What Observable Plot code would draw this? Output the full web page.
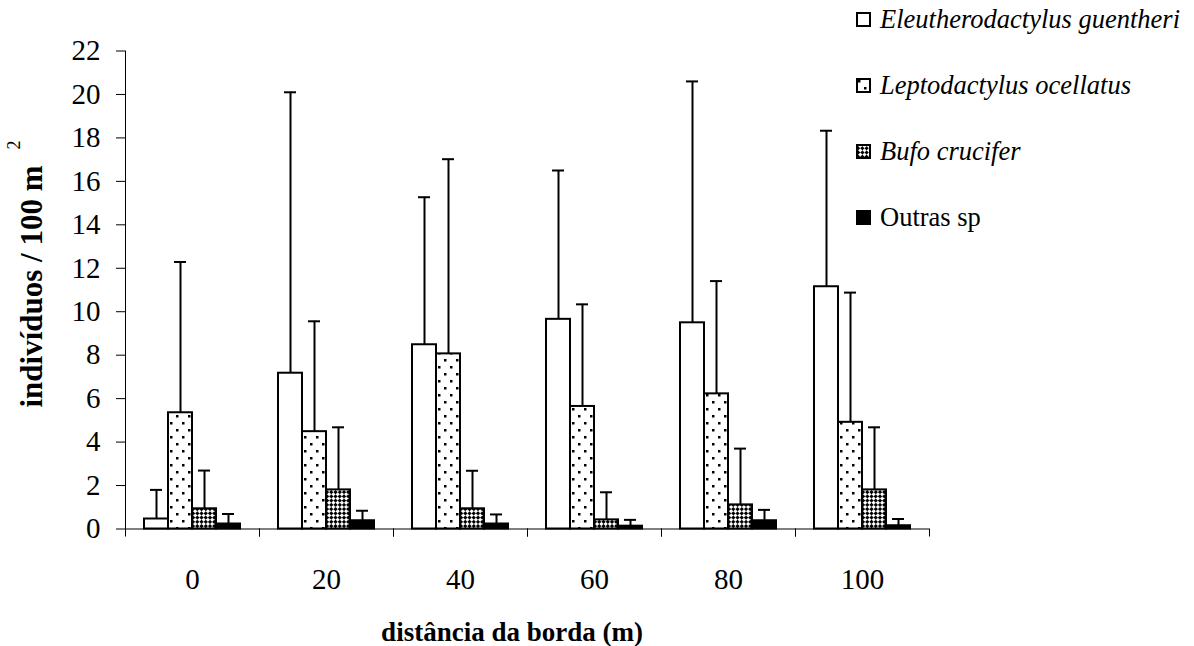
<!DOCTYPE html>
<html>
<head>
<meta charset="utf-8">
<script src="https://cdn.jsdelivr.net/npm/d3@7"></script>
<script src="https://cdn.jsdelivr.net/npm/@observablehq/plot@0.6"></script>
<style>
  body { margin: 0; background: #fff; }
  #wrap { position: relative; width: 1194px; height: 646px; font-family: "Liberation Serif", "Times New Roman", serif; color: #000; }
  #wrap svg text { font-family: "Liberation Serif", "Times New Roman", serif; }
  .leg { position: absolute; left: 856px; height: 30px; display: flex; align-items: center; font-size: 26.5px; white-space: nowrap; }
  .leg svg { margin-right: 9px; flex: none; }
  .ital { font-style: italic; }
</style>
</head>
<body>
<svg width="0" height="0" style="position:absolute">
  <defs>
    <pattern id="dots" width="12" height="14" patternUnits="userSpaceOnUse">
      <rect width="12" height="14" fill="white"/>
      <rect x="2" y="2" width="2.5" height="2.5" fill="black"/>
      <rect x="8" y="9" width="2.5" height="2.5" fill="black"/>
    </pattern>
    <pattern id="checker" width="6" height="6" patternUnits="userSpaceOnUse" patternTransform="rotate(45)">
      <rect width="6" height="6" fill="black"/>
      <rect x="0" y="0" width="3" height="3" fill="white"/>
      <rect x="3" y="3" width="3" height="3" fill="white"/>
    </pattern>
  </defs>
</svg>
<div id="wrap"></div>
<script>
// ---- data ----
const distances = ["0", "20", "40", "60", "80", "100"];
const species = ["Eleutherodactylus guentheri", "Leptodactylus ocellatus", "Bufo crucifer", "Outras sp"];
const italicSpecies = [true, true, true, false];
const eleuthMean = [0.46, 7.17, 8.48, 9.65, 9.49, 11.15];
const eleuthSD   = [1.34, 12.93, 6.79, 6.85, 11.11, 7.18];
const leptoMean  = [5.35, 4.48, 8.06, 5.64, 6.22, 4.91];
const leptoSD    = [6.94, 5.08, 8.96, 4.70, 5.19, 5.97];
const bufoMean   = [0.93, 1.80, 0.93, 0.42, 1.11, 1.80];
const bufoSD     = [1.76, 2.88, 1.75, 1.27, 2.59, 2.88];
const outrasMean = [0.23, 0.38, 0.23, 0.13, 0.38, 0.15];
const outrasSD   = [0.46, 0.46, 0.44, 0.29, 0.50, 0.31];
const yTicks = [0, 2, 4, 6, 8, 10, 12, 14, 16, 18, 20, 22];
const fills = ["white", "url(#dots)", "url(#checker)", "black"];
const xTitle = "distância da borda (m)";
const yTitle = "indivíduos / 100 m";

const means = [eleuthMean, leptoMean, bufoMean, outrasMean];
const sds = [eleuthSD, leptoSD, bufoSD, outrasSD];
const rows = distances.flatMap((dist, i) =>
  species.map((sp, j) => ({dist, sp, mean: means[j][i], sd: sds[j][i]})));

// ---- layout ----
const W = 1194, H = 646, mL = 125, mR = 265, mT = 50.5, mB = 117.5;
const step = (W - mL - mR) / distances.length;
const serif = '"Liberation Serif", "Times New Roman", serif';

const plot = Plot.plot({
  width: W, height: H,
  marginLeft: mL, marginRight: mR, marginTop: mT, marginBottom: mB,
  style: {fontFamily: serif, color: "black", background: "white"},
  fx: {domain: distances, padding: 0, label: null},
  x: {domain: species, paddingInner: 0, paddingOuter: 0.71, axis: null, label: null},
  y: {domain: [0, 22], label: null},
  color: {type: "ordinal", domain: species, range: fills},
  marks: [
    Plot.ruleY([0], {stroke: "black", strokeWidth: 1}),
    Plot.frame({anchor: "left", facetAnchor: "left", stroke: "black", strokeWidth: 1}),
    Plot.ruleX(rows, {fx: "dist", x: "sp", y1: "mean", y2: d => d.mean + d.sd, stroke: "black", strokeWidth: 2}),
    Plot.tickY(rows, {fx: "dist", x: "sp", y: d => d.mean + d.sd, stroke: "black", strokeWidth: 2, insetLeft: 6, insetRight: 6}),
    Plot.barY(rows, {fx: "dist", x: "sp", y: "mean", fill: "sp", stroke: "black", strokeWidth: 2}),
    Plot.axisY({ticks: yTicks, tickSize: 9, tickPadding: 16, fontSize: 29, fontFamily: serif, label: null, stroke: "black"}),
    Plot.axisFx({anchor: "bottom", tickSize: 0, tickPadding: 39, fontSize: 29, fontFamily: serif, label: null}),
    Plot.axisFx({anchor: "bottom", tickSize: 8, tickFormat: () => "", dx: -step / 2, label: null}),
    Plot.axisFx([distances[distances.length - 1]], {anchor: "bottom", tickSize: 8, tickFormat: () => "", dx: step / 2, label: null})
  ]
});

const svg = d3.select(plot);
// y title with superscript
const yt = svg.append("text")
  .attr("transform", "translate(42,274) rotate(-90)")
  .attr("text-anchor", "middle")
  .attr("font-family", serif)
  .attr("font-weight", "bold")
  .attr("font-size", 31)
  .attr("fill", "black");
yt.append("tspan").text(yTitle);
yt.append("tspan").attr("dx", 16).attr("dy", -22).attr("font-size", 18).attr("font-weight", "normal").text("2");
// x title
svg.append("text")
  .attr("x", 512).attr("y", 641)
  .attr("text-anchor", "middle")
  .attr("font-family", serif)
  .attr("font-weight", "bold")
  .attr("font-size", 27)
  .attr("fill", "black")
  .text(xTitle);

const wrap = document.getElementById("wrap");
wrap.appendChild(plot);

// legend
const legCenters = [19, 85, 151, 217];
species.forEach((sp, j) => {
  const div = document.createElement("div");
  div.className = "leg";
  div.style.top = (legCenters[j] - 15) + "px";
  div.innerHTML = `<svg width="15" height="15"><rect x="1" y="1" width="13" height="13" fill="${fills[j]}" stroke="black" stroke-width="2"/></svg><span class="${italicSpecies[j] ? "ital" : ""}">${sp}</span>`;
  wrap.appendChild(div);
});
</script>
</body>
</html>
